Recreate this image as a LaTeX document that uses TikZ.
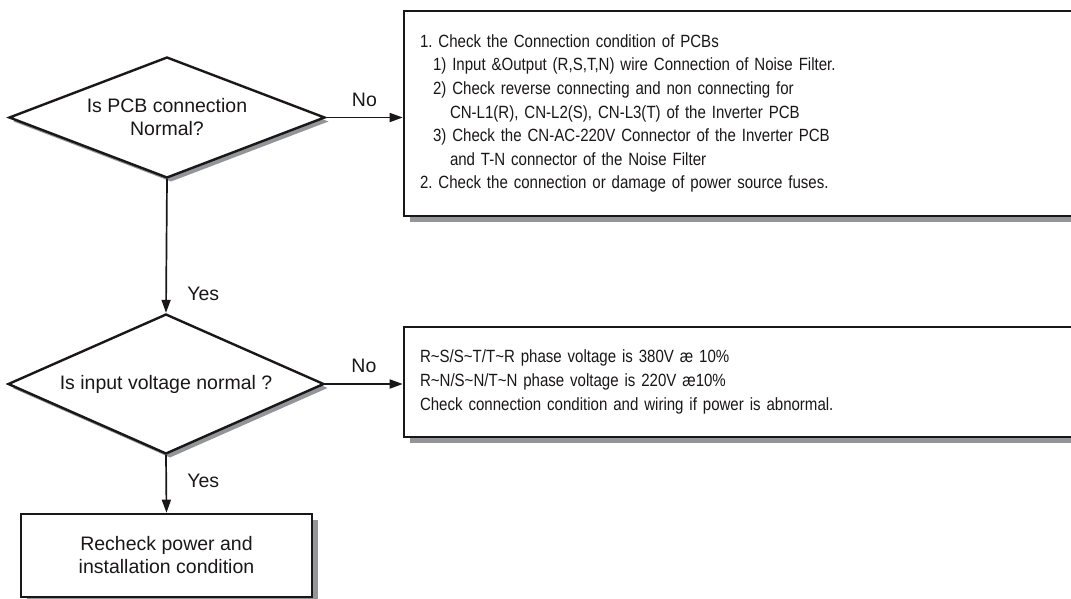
\documentclass[tikz,border=0pt]{standalone}
\usepackage{fontspec}
\setmainfont{Liberation Sans}
\newfontfamily\narrowsans[FakeStretch=0.85]{Liberation Sans}
\usetikzlibrary{arrows.meta,shapes.geometric,shadows}
\definecolor{ink}{HTML}{1A1718}
\definecolor{shade}{HTML}{939598}
\newcommand{\labeltext}{\fontsize{19.5}{23}\selectfont}
\newcommand{\notetext}{\narrowsans\fontsize{17.7}{23.6}\selectfont}
\frenchspacing
\begin{document}
\begin{tikzpicture}[x=1pt,y=-1pt,
  font=\labeltext, text=ink,
  decision/.style={diamond, draw=ink, line width=2.4pt, fill=white,
    inner sep=0pt, align=center,
    copy shadow={shadow xshift=4pt, shadow yshift=-4pt, fill=shade, draw=none}},
  panel/.style={rectangle, draw=ink, line width=2.6pt, fill=white,
    inner sep=0pt,
    copy shadow={shadow xshift=6pt, shadow yshift=-6pt, fill=shade, draw=none}},
  link/.style={draw=ink, line width=1.7pt,
    -{Triangle[length=13pt,width=9pt]}},
  tag/.style={font=\labeltext, text=ink}
]
\useasboundingbox (0,0) rectangle (1071,598);
\clip (0,0) rectangle (1071,598);

% decisions
\node[decision, aspect=2.6, minimum width=316pt, minimum height=121pt] (pcb)
  at (167,117.5) {Is PCB connection\\Normal?};
\node[decision, aspect=2.26, minimum width=316pt, minimum height=140pt] (volt)
  at (166,384) {Is input voltage normal ?};

% action boxes (the two notes run past the right edge)
\node[panel, minimum width=686pt, minimum height=205pt, text width=654pt,
  align=left, font=\notetext] (pcbfix) at (747,113.5)
  {1. Check the Connection condition of PCBs\\
   \hspace*{13pt}1) Input \&Output (R,S,T,N) wire Connection of Noise Filter.\\
   \hspace*{13pt}2) Check reverse connecting and non connecting for\\
   \hspace*{30pt}CN-L1(R), CN-L2(S), CN-L3(T) of the Inverter PCB\\
   \hspace*{13pt}3) Check the CN-AC-220V Connector of the Inverter PCB\\
   \hspace*{30pt}and T-N connector of the Noise Filter\\
   2. Check the connection or damage of power source fuses.};
\node[panel, minimum width=686pt, minimum height=110pt, text width=654pt,
  align=left, font=\notetext] (voltfix) at (747,382)
  {R\textasciitilde S/S\textasciitilde T/T\textasciitilde R phase voltage is 380V æ 10\%\\
   R\textasciitilde N/S\textasciitilde N/T\textasciitilde N phase voltage is 220V æ10\%\\
   Check connection condition and wiring if power is abnormal.};
\node[panel, minimum width=291pt, minimum height=83pt, align=center] (recheck)
  at (166.5,555.5) {Recheck power and\\installation condition};

% connectors
\draw[link] (pcb.east) -- (pcb.east -| pcbfix.west)
  node[tag, midway, above=7pt] {No};
\draw[link] (pcb.south) -- (volt.north)
  node[tag, pos=0.86, right=17pt] {Yes};
\draw[link] (volt.east) -- (volt.east -| voltfix.west)
  node[tag, midway, above=7pt] {No};
\draw[link] (volt.south) -- (recheck.north)
  node[tag, pos=0.45, right=17pt] {Yes};
\end{tikzpicture}
\end{document}
